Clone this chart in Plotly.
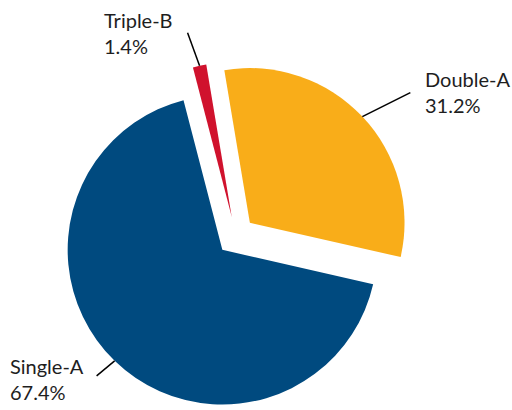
import numpy as np
import plotly.graph_objects as go

# Ratings breakdown (share of portfolio, %)
labels = ["Double-A", "Single-A", "Triple-B"]
values = [31.2, 67.4, 1.4]
colors = ["#F9AD19", "#004A7F", "#D0122D"]

W, H = 512, 410
pull = 0.125
rotation = -9.5

# Pie domain (pixels): centre and outer half-size
cx, cy = 235.8, 236.0
half = 174.0

fig = go.Figure(go.Pie(
    labels=labels,
    values=values,
    sort=False,
    direction="clockwise",
    rotation=rotation,
    pull=[pull] * len(values),
    marker=dict(colors=colors, line=dict(width=0)),
    textinfo="none",
    hoverinfo="label+percent",
    showlegend=False,
    domain=dict(x=[(cx - half) / W, (cx + half) / W],
                y=[1 - (cy + half) / H, 1 - (cy - half) / H]),
))

# Leader lines from the outer edge of each slice (along its bisector)
# out to the label; offsets in pixels
leader = {
    "Double-A": (48, -24, "left", 13, -1),
    "Single-A": (-18, 15, "right", -11, 3),
    "Triple-B": (-12, -33, "right", -13, 0),
}

total = sum(values)
start = rotation
shapes, annotations = [], []
for lab, val in zip(labels, values):
    span = val / total * 360
    mid = np.radians(start + span / 2)
    start += span
    # pulled slice outer point on its bisector
    px = cx + half * np.sin(mid)
    py = cy - half * np.cos(mid)
    dx, dy, anchor, tx, ty = leader[lab]
    ex, ey = px + dx, py + dy
    shapes.append(dict(type="line", xref="paper", yref="paper",
                       x0=px / W, y0=1 - py / H, x1=ex / W, y1=1 - ey / H,
                       line=dict(color="#000000", width=1.5)))
    annotations.append(dict(xref="paper", yref="paper",
                            x=(ex + tx) / W, y=1 - (ey + ty) / H,
                            xanchor=anchor, yanchor="middle", align="left",
                            text=f"{lab}<br>{val:.1f}%", showarrow=False,
                            font=dict(family="Lato", size=20, color="#1E1E1E")))

fig.update_layout(
    width=W, height=H,
    margin=dict(l=0, r=0, t=0, b=0),
    paper_bgcolor="white", plot_bgcolor="white",
    shapes=shapes, annotations=annotations,
)

fig.write_html("out.html")
